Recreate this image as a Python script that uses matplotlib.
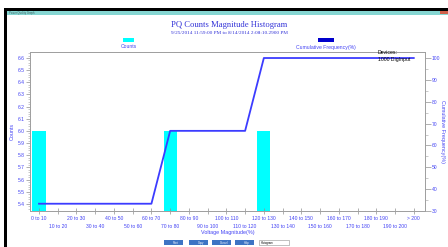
import numpy as np
import matplotlib
matplotlib.use('Agg')
from matplotlib import pyplot as plt
from matplotlib.ticker import MultipleLocator
from matplotlib.patches import Rectangle

# data
categories = ['0 to 10', '10 to 20', '20 to 30', '30 to 40', '40 to 50', '50 to 60',
              '60 to 70', '70 to 80', '80 to 90', '90 to 100', '100 to 110', '110 to 120',
              '120 to 130', '130 to 140', '140 to 150', '150 to 160', '160 to 170',
              '170 to 180', '180 to 190', '190 to 200', '> 200']
counts = [6, 0, 0, 0, 0, 0, 0, 6, 0, 0, 0, 0, 6, 0, 0, 0, 0, 0, 0, 0, 0]
cum_freq = [33.33, 33.33, 33.33, 33.33, 33.33, 33.33, 33.33, 66.67, 66.67, 66.67,
            66.67, 66.67, 100, 100, 100, 100, 100, 100, 100, 100, 100]

W, H = 448, 247
txt_blue = '#4343f5'
sans = 'Liberation Sans'
small = 3.6

plt.rcParams['font.family'] = sans

def fx(x):
    return x / W

def fy(y):
    return 1 - y / H

fig = plt.figure(figsize=(W / 100, H / 100), dpi=100)
fig.patch.set_facecolor('white')

ax = fig.add_axes([fx(30), fy(211), fx(425) - fx(30), fy(52) - fy(211)])
x = np.arange(len(categories))
ax.bar(x, counts, width=0.7, color='#00ffff', zorder=1)
ax.set_xlim(-0.48, 20.6)
ax.set_ylim(5.3425, 6.649)
ax.yaxis.set_minor_locator(MultipleLocator(0.02))
ax.set_yticks(np.arange(5.4, 6.61, 0.1))
ax.set_yticklabels(['%.1f' % v for v in np.arange(5.4, 6.61, 0.1)])
# even categories on first row, odd on second row
ax.set_xticks(x[::2])
ax.set_xticklabels(categories[::2], fontsize=small, color=txt_blue)
ax.set_xticks(x[1::2], minor=True)
ax.set_xticklabels(categories[1::2], minor=True, fontsize=small, color=txt_blue)
ax.tick_params(axis='x', which='both', direction='inout', length=5, width=0.5, color='#909090')
ax.tick_params(axis='x', which='major', pad=1)
ax.tick_params(axis='x', which='minor', pad=6.5)
ax.tick_params(axis='y', which='major', direction='out', length=3, width=0.5,
               color='#909090', labelsize=small, labelcolor=txt_blue, pad=1)
ax.tick_params(axis='y', which='minor', direction='out', length=1.5, width=0.4, color='#a0a0a0')
for s in ax.spines.values():
    s.set_color('#a0a0a0')
    s.set_linewidth(0.7)
ax.set_xlabel('Voltage Magnitude(%)', fontsize=3.9, color=txt_blue, labelpad=1)
ax.set_ylabel('Counts', fontsize=3.9, color=txt_blue, labelpad=2)

ax2 = ax.twinx()
ax2.plot(x, cum_freq, color='#3c3cff', linewidth=1.3, zorder=3)
ax2.set_ylim(30, 102.75)
ax2.yaxis.set_minor_locator(MultipleLocator(5))
ax2.set_yticks(np.arange(30, 101, 10))
ax2.tick_params(axis='y', which='major', direction='out', length=4, width=0.5,
                color='#909090', labelsize=small, labelcolor=txt_blue, pad=1)
ax2.tick_params(axis='y', which='minor', direction='out', length=2, width=0.4, color='#a0a0a0')
for s in ax2.spines.values():
    s.set_color('#a0a0a0')
    s.set_linewidth(0.7)
ax2.set_ylabel('Cumulative Frequency(%)', fontsize=3.9, color=txt_blue, rotation=-90, labelpad=3.5)

# devices box
fig.text(fx(378), fy(52.5), 'Devices:', fontsize=3.7, color='black', va='center', zorder=10)
fig.text(fx(378), fy(59.5), '1000 DigInput', fontsize=3.7, color='black', va='center', zorder=10)

# titles
fig.text(fx(229), fy(25), 'PQ Counts Magnitude Histogram', fontsize=6.2, color='#3434d8',
         family='Liberation Serif', ha='center', va='center')
fig.text(fx(229), fy(33), '9/25/2014 11:59:00 PM to 8/14/2014 2:08:10.2900 PM', fontsize=3.8,
         color='#3434d8', family='Liberation Serif', ha='center', va='center')

# legend
fig.patches.append(Rectangle((fx(123), fy(42.5)), fx(11), fx(4) * W / H, transform=fig.transFigure,
                             facecolor='#00ffff', edgecolor='none'))
fig.text(fx(128.5), fy(47), 'Counts', fontsize=3.7, color=txt_blue, ha='center', va='center')
fig.patches.append(Rectangle((fx(318), fy(42.5)), fx(16), fx(4) * W / H, transform=fig.transFigure,
                             facecolor='#0000cc', edgecolor='none'))
fig.text(fx(326), fy(47), 'Cumulative Frequency(%)', fontsize=3.7, color=txt_blue, ha='center', va='center')

# window frame
fig.patches.append(Rectangle((fx(4), fy(11)), 1, fy(8) - fy(11), transform=fig.transFigure,
                             facecolor='black', edgecolor='none'))
fig.patches.append(Rectangle((fx(6), fy(15)), 1, fy(11) - fy(15), transform=fig.transFigure,
                             facecolor='#86d6d2', edgecolor='none'))
fig.patches.append(Rectangle((fx(440), fy(14.5)), fx(8), fy(11) - fy(14.5), transform=fig.transFigure,
                             facecolor='#d0604a', edgecolor='none'))
fig.patches.append(Rectangle((fx(4), 0), fx(2.5), fy(8), transform=fig.transFigure,
                             facecolor='black', edgecolor='none'))
fig.text(fx(9), fy(13), 'Power Quality Graph', fontsize=2, color='#406060', va='center')

# buttons
buttons = ['Print', 'Copy', 'Cancel', 'Help']
bx = [164, 189, 212, 235]
for b, xx in zip(buttons, bx):
    fig.patches.append(Rectangle((fx(xx), fy(245)), fx(19), fy(240) - fy(245), transform=fig.transFigure,
                                 facecolor='#3d74c4', edgecolor='none'))
    fig.text(fx(xx + 12), fy(242.5), b, fontsize=2, color='white', ha='center', va='center')
fig.patches.append(Rectangle((fx(259), fy(245)), fx(30), fy(240) - fy(245), transform=fig.transFigure,
                             facecolor='white', edgecolor='#909090', linewidth=0.4))
fig.text(fx(261), fy(242.5), 'Histogram', fontsize=2, color='black', va='center')

plt.savefig('out.png', dpi=100)
